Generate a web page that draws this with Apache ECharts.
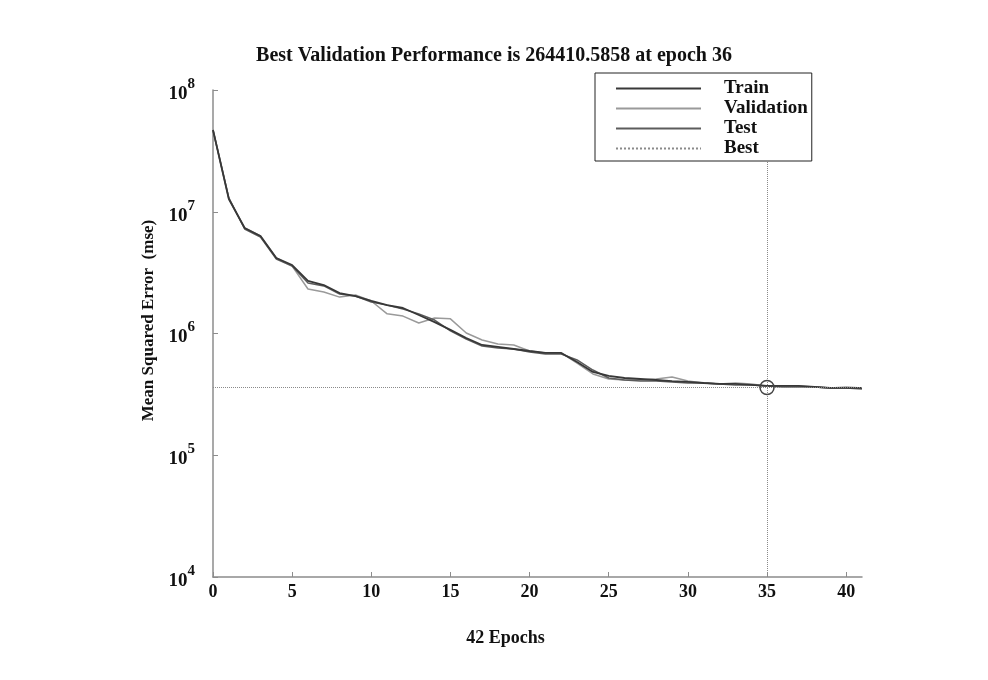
<!DOCTYPE html>
<html>
<head>
<meta charset="utf-8">
<script src="https://cdn.jsdelivr.net/npm/echarts@6/dist/echarts.min.js"></script>
<style>
  html, body { margin: 0; padding: 0; background: #fff; }
  #chart { width: 988px; height: 680px; }
</style>
</head>
<body>
<div id="chart"></div>
<script>
// epochs 0..41
const epochs = [0,1,2,3,4,5,6,7,8,9,10,11,12,13,14,15,16,17,18,19,20,21,22,23,24,25,26,27,28,29,30,31,32,33,34,35,36,37,38,39,40,41];

// mean squared error per epoch
const trainMse = [4.69e7,1.273e7,7.36e6,6.32e6,4.17e6,3.65e6,2.70e6,2.50e6,2.15e6,2.03e6,1.85e6,1.71e6,1.62e6,1.42e6,1.24e6,1.07e6,9.18e5,8.05e5,7.75e5,7.46e5,7.18e5,6.92e5,6.92e5,5.83e5,4.83e5,4.48e5,4.31e5,4.23e5,4.15e5,4.07e5,4.00e5,3.92e5,3.85e5,3.85e5,3.78e5,3.71e5,3.71e5,3.71e5,3.64e5,3.57e5,3.57e5,3.57e5];
const validationMse = [4.69e7,1.273e7,7.36e6,6.32e6,4.17e6,3.58e6,2.32e6,2.19e6,1.99e6,2.07e6,1.85e6,1.45e6,1.39e6,1.22e6,1.34e6,1.32e6,1.01e6,8.84e5,8.20e5,8.05e5,7.18e5,6.92e5,6.92e5,5.72e5,4.65e5,4.23e5,4.15e5,4.15e5,4.23e5,4.39e5,4.07e5,3.92e5,3.85e5,3.92e5,3.85e5,3.71e5,3.71e5,3.71e5,3.64e5,3.57e5,3.64e5,3.57e5];
const testMse = [4.69e7,1.30e7,7.22e6,6.20e6,4.09e6,3.58e6,2.60e6,2.46e6,2.11e6,2.03e6,1.81e6,1.71e6,1.59e6,1.45e6,1.29e6,1.05e6,9.01e5,7.90e5,7.60e5,7.46e5,7.05e5,6.79e5,6.79e5,6.06e5,5.01e5,4.31e5,4.15e5,4.07e5,4.07e5,4.00e5,3.92e5,3.92e5,3.85e5,3.78e5,3.78e5,3.71e5,3.64e5,3.64e5,3.64e5,3.57e5,3.57e5,3.50e5];

const bestEpoch = 35;
const bestMse = 3.6e5;

const seriesNames = ['Train', 'Validation', 'Test', 'Best'];
const seriesColors = ['#383838', '#9a9a9a', '#5c5c5c', '#8a8a8a'];

const serif = '"Liberation Serif", "DejaVu Serif", serif';

const chart = echarts.init(document.getElementById('chart'));

const pairs = arr => arr.map((v, i) => [epochs[i], v]);

const option = {
    backgroundColor: '#fff',
    animation: false,
    title: {
        text: 'Best Validation Performance is 264410.5858 at epoch 36',
        left: 'center',
        top: 46,
        padding: [0, 0, 0, 26],
        textStyle: { fontFamily: serif, fontWeight: 'bold', fontSize: 20, color: '#111' }
    },
    legend: {
        data: seriesNames,
        orient: 'vertical',
        left: 595,
        top: 73,
        z: 20,
        padding: [6, 4, 3, 20],
        itemWidth: 85,
        itemHeight: 14,
        itemGap: 1,
        borderColor: '#222',
        borderWidth: 1,
        backgroundColor: '#fff',
        itemStyle: { opacity: 0 },
        textStyle: { fontFamily: serif, fontWeight: 'bold', fontSize: 19, lineHeight: 18, color: '#111', padding: [0, 0, 0, 18] }
    },
    grid: { left: 213, right: 126, top: 90, bottom: 103 },
    xAxis: {
        type: 'value',
        min: 0,
        max: 41,
        interval: 5,
        name: '42 Epochs',
        nameLocation: 'middle',
        nameGap: 52,
        nameTextStyle: { fontFamily: serif, fontWeight: 'bold', fontSize: 18, color: '#111', padding: [0, 64, 0, 0] },
        axisLine: { lineStyle: { color: '#8c8c8c', width: 1.5 } },
        axisTick: { inside: true, length: 5, lineStyle: { color: '#8c8c8c' } },
        axisLabel: { showMaxLabel: false, margin: 6, fontFamily: serif, fontWeight: 'bold', fontSize: 18, color: '#111' },
        splitLine: { show: false }
    },
    yAxis: {
        type: 'log',
        logBase: 10,
        min: 1e4,
        max: 1e8,
        name: 'Mean Squared Error  (mse)',
        nameLocation: 'middle',
        nameGap: 52,
        nameTextStyle: { fontFamily: serif, fontWeight: 'bold', fontSize: 17, color: '#111', padding: [0, 0, 0, 26] },
        axisLine: { show: true, lineStyle: { color: '#8c8c8c', width: 1.5 } },
        axisTick: { inside: true, length: 5, lineStyle: { color: '#8c8c8c' } },
        axisLabel: {
            margin: 18,
            formatter: v => '{b|10}{s|' + Math.round(Math.log10(v)) + '}',
            rich: {
                b: { fontFamily: serif, fontWeight: 'bold', fontSize: 19, color: '#111', padding: [8, 0, 0, 0], verticalAlign: 'bottom' },
                s: { fontFamily: serif, fontWeight: 'bold', fontSize: 15, color: '#111', verticalAlign: 'top' }
            }
        },
        splitLine: { show: false }
    },
    series: [
        {
            name: 'Train', type: 'line', data: pairs(trainMse), symbol: 'none',
            lineStyle: { color: seriesColors[0], width: 1.8 }, itemStyle: { color: seriesColors[0] }, z: 3
        },
        {
            name: 'Validation', type: 'line', data: pairs(validationMse), symbol: 'none',
            lineStyle: { color: seriesColors[1], width: 1.5 }, itemStyle: { color: seriesColors[1] }, z: 2
        },
        {
            name: 'Test', type: 'line', data: pairs(testMse), symbol: 'none',
            lineStyle: { color: seriesColors[2], width: 1.5 }, itemStyle: { color: seriesColors[2] }, z: 2
        },
        {
            name: 'Best', type: 'line', data: [[bestEpoch, bestMse]], symbol: 'none',
            lineStyle: { color: seriesColors[3], width: 1, type: 'dotted' }, itemStyle: { color: seriesColors[3] }, z: 1,
            markLine: {
                silent: true,
                symbol: 'none',
                label: { show: false },
                lineStyle: { color: '#8a8a8a', width: 1, type: 'dotted' },
                data: [{ yAxis: bestMse }, { xAxis: bestEpoch }]
            },
            markPoint: {
                silent: true,
                symbol: 'circle',
                symbolSize: 14,
                label: { show: false },
                itemStyle: { color: 'rgba(0,0,0,0)', borderColor: '#444', borderWidth: 1.5 },
                data: [{ coord: [bestEpoch, bestMse] }]
            }
        }
    ]
};

chart.setOption(option);
window.addEventListener('resize', () => chart.resize());
</script>
</body>
</html>
